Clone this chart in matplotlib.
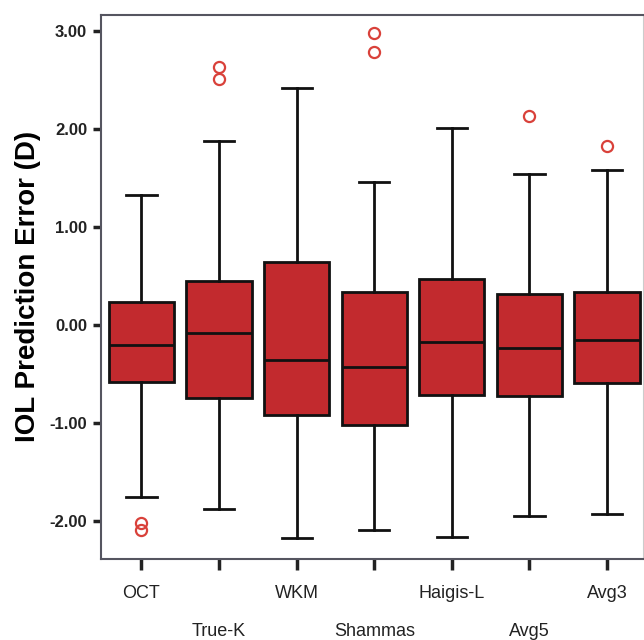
import numpy as np
import matplotlib
matplotlib.use('Agg')
import matplotlib.pyplot as plt

# values
methods = ['OCT', 'True-K', 'WKM', 'Shammas', 'Haigis-L', 'Avg5', 'Avg3']
whisker_low = [-1.75, -1.87, -2.17, -2.09, -2.16, -1.94, -1.92]
q1 = [-0.58, -0.74, -0.91, -1.02, -0.71, -0.72, -0.59]
median = [-0.20, -0.08, -0.35, -0.42, -0.17, -0.23, -0.15]
q3 = [0.24, 0.45, 0.65, 0.34, 0.47, 0.32, 0.34]
whisker_high = [1.33, 1.88, 2.42, 1.46, 2.01, 1.55, 1.59]
outliers = [[-2.02, -2.09], [2.64, 2.51], [], [2.98, 2.79], [], [2.14], [1.83]]

plt.rcParams['font.family'] = ['Liberation Sans', 'DejaVu Sans']

fig = plt.figure(figsize=(6.44, 6.40), dpi=100)
ax = fig.add_axes([0.157, 0.127, 0.841, 0.85])

stats = []
for i, m in enumerate(methods):
    stats.append(dict(label=m, med=median[i], q1=q1[i], q3=q3[i],
                      whislo=whisker_low[i], whishi=whisker_high[i],
                      fliers=outliers[i]))

ax.bxp(stats, positions=np.arange(len(methods)), widths=0.84,
       patch_artist=True, showfliers=True,
       boxprops=dict(facecolor='#c22a2e', edgecolor='#111111', linewidth=2),
       medianprops=dict(color='#111111', linewidth=2),
       whiskerprops=dict(color='#111111', linewidth=2),
       capprops=dict(color='#111111', linewidth=2),
       capwidths=0.39,
       flierprops=dict(marker='o', markerfacecolor='none', markeredgecolor='#d9413a',
                       markersize=8, markeredgewidth=1.6))

ax.set_xlim(-0.52, 6.46)
ax.set_ylim(-2.38, 3.17)
ax.set_yticks([-2, -1, 0, 1, 2, 3])
ax.set_yticklabels(['%.2f' % v for v in [-2, -1, 0, 1, 2, 3]],
                   fontweight='bold', fontsize=12)
ax.set_xticks(np.arange(len(methods)))
ax.set_xticklabels([m if i % 2 == 0 else '\n' + m for i, m in enumerate(methods)],
                   fontsize=13, linespacing=2.6)
ax.tick_params(axis='y', length=6, width=2.5, pad=4, colors='#222222')
ax.tick_params(axis='x', length=8, width=2.5, pad=11, colors='#222222')
ax.set_ylabel('IOL Prediction Error (D)', fontsize=20, fontweight='bold', labelpad=6)

for s in ['left', 'bottom', 'top']:
    ax.spines[s].set_color('#555560')
    ax.spines[s].set_linewidth(1.5)
ax.spines['right'].set_color('#cccccc')

fig.savefig('out.png', dpi=100)
